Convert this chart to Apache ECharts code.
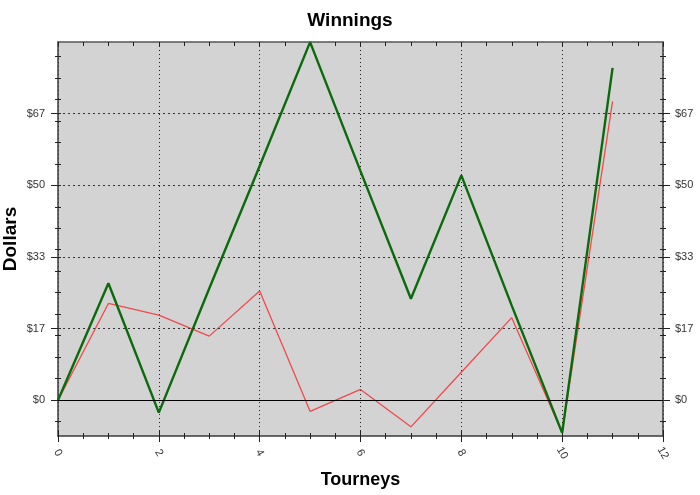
<!DOCTYPE html>
<html>
<head>
<meta charset="utf-8">
<script src="https://cdn.jsdelivr.net/npm/echarts@6/dist/echarts.min.js"></script>
<style>html,body{margin:0;padding:0;background:#fff}#c{width:700px;height:495px}</style>
</head>
<body>
<div id="c"></div>
<script>
const titleText = 'Winnings';
const xName = 'Tourneys';
const yName = 'Dollars';
const tourneys = [0, 1, 2, 3, 4, 5, 6, 7, 8, 9, 10, 11];
const greenValues = [0, 27.2, -2.9, 26.0, 54.5, 83.3, 53.3, 23.6, 52.3, 22.0, -7.6, 77.3];
const redValues = [0, 22.5, 19.8, 14.9, 25.4, -2.6, 2.5, -6.2, 6.5, 19.2, -7.6, 69.5];
const yLabelValues = [0, 50/3, 100/3, 50, 200/3];
const yMinorTicks = [-5, 0, 5, 10, 15, 20, 25, 30, 35, 40, 45, 50, 55, 60, 65, 70, 75, 80];
const yGridValues = [50/3, 100/3, 50, 200/3];
const yMin = -25/3, yMax = 250/3;
const xMin = 0, xMax = 12, xStep = 2;

const font = 'Liberation Sans, Arial, sans-serif';
const axisColor = '#3a3a3a';
const tickStyle = { color: '#222', width: 1 };

function yAx(pos, opts) {
  return Object.assign({
    type: 'value', position: pos, min: yMin, max: yMax,
    axisLine: { show: false, onZero: false },
    axisLabel: { show: false },
    splitLine: { show: false },
    axisTick: { show: false }
  }, opts);
}
function xAx(pos, opts) {
  return Object.assign({
    type: 'value', position: pos, min: xMin, max: xMax, interval: xStep,
    axisLine: { show: false, onZero: false },
    axisLabel: { show: false },
    splitLine: { show: false },
    axisTick: { show: false },
    minorTick: { show: false }
  }, opts);
}
const labelStyle = { fontFamily: font, fontSize: 11, color: '#333' };

const option = {
  animation: false,
  backgroundColor: '#fff',
  title: {
    text: titleText, left: 'center', top: 6,
    textStyle: { fontFamily: font, fontSize: 19, fontWeight: 'bold', color: '#000' }
  },
  grid: { left: 58, right: 37, top: 42, bottom: 59, show: true, backgroundColor: '#d3d3d3', borderWidth: 0,
          containLabel: false, outerBoundsMode: 'none' },
  xAxis: [
    xAx('bottom', {
      axisLine: { show: true, onZero: false, lineStyle: { color: axisColor, width: 1.5 } },
      axisTick: { show: true, length: 6, lineStyle: tickStyle },
      minorTick: { show: true, splitNumber: 4, length: 3, lineStyle: tickStyle },
      axisLabel: Object.assign({ show: true, rotate: -60, margin: 17, align: 'center', verticalAlign: 'middle', formatter: v => String(v) }, labelStyle),
      splitLine: { show: true, lineStyle: { type: [1, 3], color: '#222', width: 1 } },
      name: xName, nameLocation: 'middle', nameGap: 35, nameMoveOverlap: false,
      nameTextStyle: { fontFamily: font, fontSize: 18, fontWeight: 'bold', color: '#000' }
    }),
    xAx('bottom', {
      axisTick: { show: true, inside: true, length: 6, lineStyle: tickStyle },
      minorTick: { show: true, splitNumber: 4, length: 3, lineStyle: tickStyle }
    }),
    xAx('top', {
      axisLine: { show: true, onZero: false, lineStyle: { color: '#555', width: 1.5 } },
      axisTick: { show: true, inside: true, length: 4, lineStyle: tickStyle },
      minorTick: { show: true, splitNumber: 4, length: 4, lineStyle: tickStyle }
    })
  ],
  yAxis: [
    yAx('left', {
      axisLine: { show: true, onZero: false, lineStyle: { color: axisColor, width: 1.5 } },
      axisTick: { show: true, length: 7, customValues: yLabelValues, lineStyle: tickStyle },
      axisLabel: Object.assign({ show: true, margin: 13, customValues: yLabelValues, formatter: v => '$' + Math.round(v) }, labelStyle),
      name: yName, nameLocation: 'middle', nameGap: 38, nameMoveOverlap: false,
      nameTextStyle: { fontFamily: font, fontSize: 19, fontWeight: 'bold', color: '#000' }
    }),
    yAx('left', { axisTick: { show: true, length: 3, customValues: yMinorTicks, lineStyle: tickStyle } }),
    yAx('left', { axisTick: { show: true, inside: true, length: 3, customValues: yMinorTicks.concat(yLabelValues), lineStyle: tickStyle } }),
    yAx('right', {
      axisLine: { show: true, onZero: false, lineStyle: { color: axisColor, width: 1.5 } },
      axisTick: { show: true, length: 7, customValues: yLabelValues, lineStyle: tickStyle },
      axisLabel: Object.assign({ show: true, margin: 12, customValues: yLabelValues, formatter: v => '$' + Math.round(v) }, labelStyle)
    }),
    yAx('right', { axisTick: { show: true, length: 3, customValues: yMinorTicks, lineStyle: tickStyle } }),
    yAx('right', { axisTick: { show: true, inside: true, length: 3, customValues: yMinorTicks.concat(yLabelValues), lineStyle: tickStyle } })
  ],
  series: [
    {
      type: 'line', xAxisIndex: 0, yAxisIndex: 0, z: 2,
      data: tourneys.map((t, i) => [t, redValues[i]]),
      showSymbol: false, symbol: 'none',
      lineStyle: { color: '#f24a4a', width: 1.3 },
      markLine: {
        silent: true, symbol: ['none', 'none'], label: { show: false },
        data: [{ yAxis: 0, lineStyle: { type: 'solid', color: '#000', width: 1.2 } }]
          .concat(yGridValues.map(v => ({ yAxis: v, lineStyle: { type: [2, 3], color: '#333', width: 1 } })))
      }
    },
    {
      type: 'line', xAxisIndex: 0, yAxisIndex: 0, z: 3,
      data: tourneys.map((t, i) => [t, greenValues[i]]),
      showSymbol: false, symbol: 'none',
      lineStyle: { color: '#0b6a0b', width: 2.4 }
    }
  ]
};
const chart = echarts.init(document.getElementById('c'), null, { renderer: 'canvas' });
chart.setOption(option);
</script>
</body>
</html>
